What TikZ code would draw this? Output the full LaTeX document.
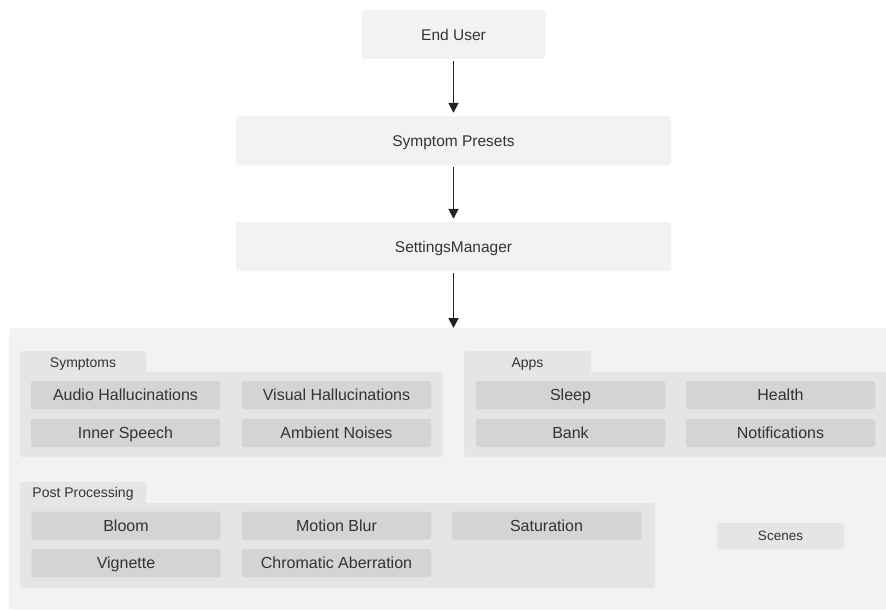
\documentclass[tikz,border=0pt]{standalone}
\usepackage{fontspec}
\setmainfont{Liberation Sans}
\usetikzlibrary{arrows.meta}
\definecolor{txt}{HTML}{333333}
\definecolor{bgA}{HTML}{F2F2F2}
\definecolor{grp}{HTML}{E5E5E5}
\definecolor{itm}{HTML}{D4D4D4}
\definecolor{arr}{HTML}{222222}
\begin{document}
\begin{tikzpicture}[x=1pt,y=-1pt,
  topbox/.style={fill=bgA, rounded corners=3pt, text=txt, font=\fontsize{15.5}{18}\selectfont, inner sep=0pt, minimum height=49pt, text height=11.1pt, text depth=0pt},
  item/.style={fill=itm, rounded corners=2pt, text=txt, font=\fontsize{16}{19}\selectfont, inner sep=0pt, minimum width=189pt, minimum height=28pt, text height=11.5pt, text depth=0pt},
  grpbody/.style={fill=grp, rounded corners=3pt, inner sep=0pt, anchor=north west},
  tabbox/.style={fill=grp, rounded corners=3pt, text=txt, font=\fontsize{14}{16}\selectfont, inner sep=0pt, minimum height=22pt, text height=10pt, text depth=0pt},
  flow/.style={draw=arr, line width=1.8pt, -{Triangle[length=10pt,width=10pt]}, shorten >=3pt, shorten <=2pt},
]
\clip (0,0) rectangle (886,610);
\fill[white] (0,0) rectangle (886,610);

% top chain
\node[topbox, minimum width=184pt] (eu) at (453.5,34.5) {End User};
\node[topbox, minimum width=435pt] (sp) at (453.5,140.5) {Symptom Presets};
\node[topbox, minimum width=435pt] (sm) at (453.5,246.5) {SettingsManager};

% container
\node[fill=bgA, rounded corners=3pt, inner sep=0pt, anchor=north west, minimum width=890pt, minimum height=281pt] (cont) at (9,328) {};

\draw[flow] (eu.south) -- (sp.north);
\draw[flow] (sp.south) -- (sm.north);
\draw[flow, shorten >=0pt] (sm.south) -- (sm.south |- cont.north);

% Symptoms group
\node[grpbody, minimum width=423pt, minimum height=85pt] (symbody) at (20,372) {};
\fill[grp] (20,366) rectangle (146,378);
\node[tabbox, minimum width=126pt] (symtab) at (83,362) {Symptoms};
\node[item] (ah) at (125.5,395) {Audio Hallucinations};
\node[item] (vh) at (336.5,395) {Visual Hallucinations};
\node[item] (is) at (125.5,433) {Inner Speech};
\node[item] (an) at (336.5,433) {Ambient Noises};

% Apps group
\node[grpbody, minimum width=423pt, minimum height=85pt] (appbody) at (464,372) {};
\fill[grp] (464,366) rectangle (591,378);
\node[tabbox, minimum width=127pt] (apptab) at (527.5,362) {Apps};
\node[item] (sl) at (570.5,395) {Sleep};
\node[item] (he) at (780.5,395) {Health};
\node[item] (ba) at (570.5,433) {Bank};
\node[item] (no) at (780.5,433) {Notifications};

% Post Processing group
\node[grpbody, minimum width=635pt, minimum height=85pt] (ppbody) at (20,503) {};
\fill[grp] (20,497) rectangle (146,509);
\node[tabbox, minimum width=126pt, minimum height=21pt] (pptab) at (83,492.5) {Post Processing};
\node[item] (bl) at (126,525.5) {Bloom};
\node[item] (mb) at (336.5,525.5) {Motion Blur};
\node[item] (sa) at (546.5,525.5) {Saturation};
\node[item] (vi) at (126,563) {Vignette};
\node[item] (ca) at (336.5,563) {Chromatic Aberration};

% Scenes
\node[fill=grp, rounded corners=2pt, text=txt, font=\fontsize{13.5}{16}\selectfont, inner sep=0pt, minimum width=127pt, minimum height=26pt, text height=9.7pt, text depth=0pt] (sc) at (780.5,536) {Scenes};
\end{tikzpicture}
\end{document}
